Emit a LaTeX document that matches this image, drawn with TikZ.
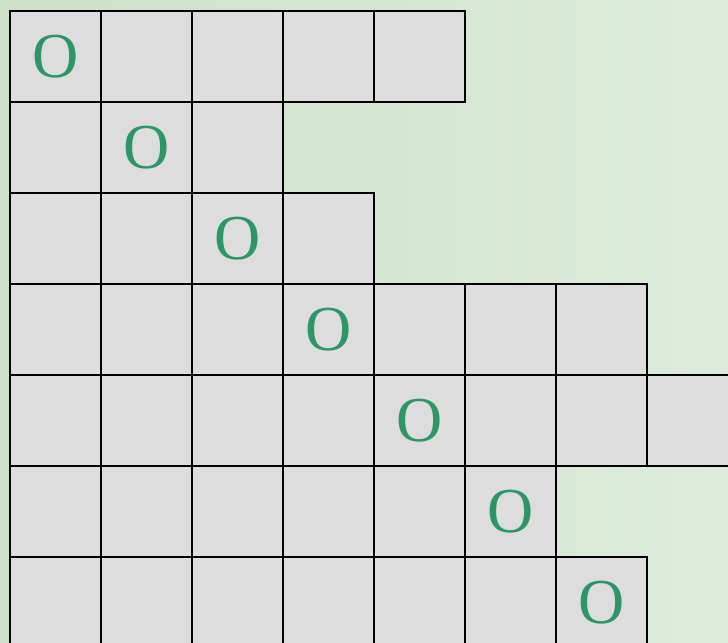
\documentclass[tikz,border=0pt]{standalone}
\usepackage{fontspec}
\setmainfont{Liberation Serif}
\usepackage{tikz}
\definecolor{bgleft}{RGB}{204,224,199}
\definecolor{bgright}{RGB}{221,236,219}
\definecolor{cellgray}{RGB}{221,221,221}
\definecolor{markgreen}{RGB}{46,150,100}
\tikzset{
  cellbox/.style={draw=black, fill=cellgray, line width=0.7pt, minimum size=1.5cm,
    inner sep=0pt, outer sep=0pt, anchor=north west, font=\fontsize{30}{30}\selectfont,
    text=markgreen}
}

\begin{document}
\begin{tikzpicture}[x=1.5cm,y=1.5cm]
        \useasboundingbox (-0.11,0.12) rectangle (7.89,-6.946);
        \shade[left color=bgleft, right color=bgright] (-0.11,0.12) rectangle (7.89,-6.946);
        % rows of cells, the mark sits on the diagonal
        \foreach \len [count=\r from 0] in {5,3,4,7,8,6,7}{
            \foreach \c in {1,...,\len}{
                \pgfmathtruncatemacro{\cc}{\c-1}
                \ifnum\cc=\r
                    \node[cellbox] (cell-\r-\cc) at (\cc,-\r) {O};
                \else
                    \node[cellbox] (cell-\r-\cc) at (\cc,-\r) {};
                \fi
            }
        }
    \end{tikzpicture}
\end{document}
